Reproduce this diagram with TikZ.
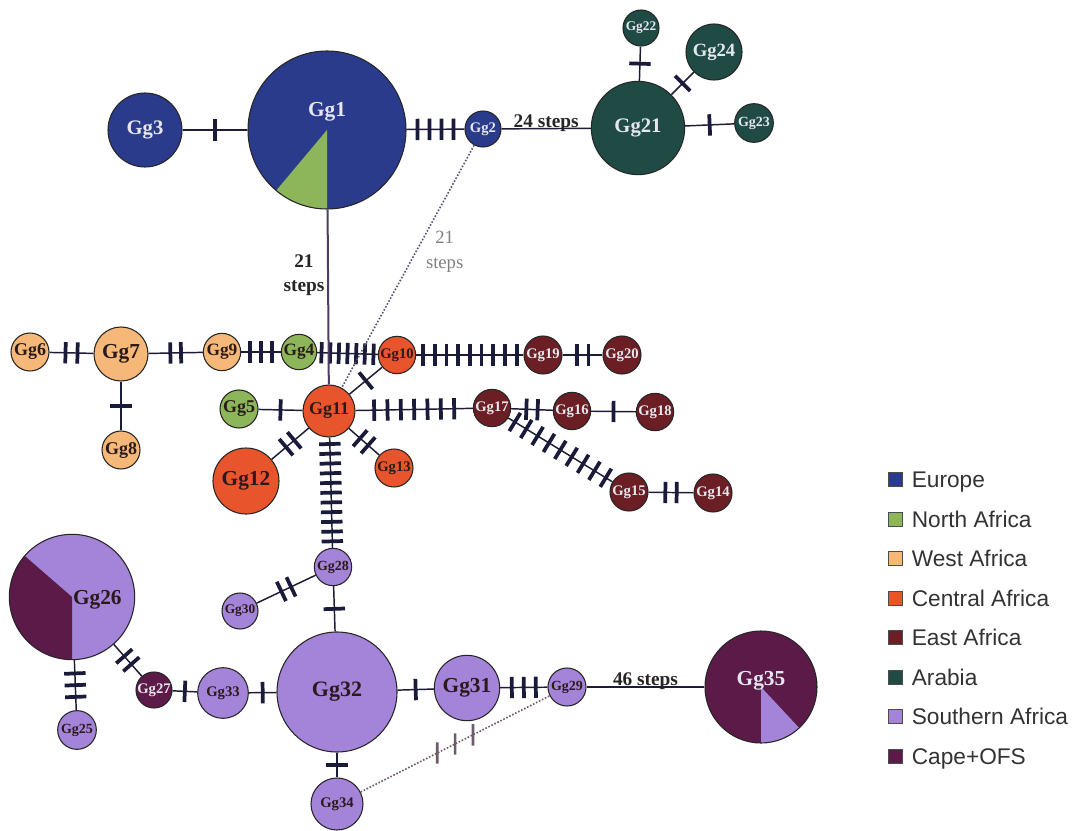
\documentclass[tikz,border=0pt]{standalone}
\usepackage{fontspec}
\setmainfont{Liberation Serif}
\newfontfamily\legfont{Liberation Sans}
\usetikzlibrary{positioning,decorations.markings}
\definecolor{euroc}{HTML}{2B3B8C}
\definecolor{nafrc}{HTML}{8DB65B}
\definecolor{wafrc}{HTML}{F5B878}
\definecolor{cafrc}{HTML}{E8542B}
\definecolor{eafrc}{HTML}{6B1F24}
\definecolor{arabc}{HTML}{1F4B44}
\definecolor{safrc}{HTML}{A484D8}
\definecolor{capec}{HTML}{5B1A48}
\definecolor{labw}{HTML}{E6E6EE}
\definecolor{labd}{HTML}{2A1A1A}
\definecolor{linec}{HTML}{1C1C36}
\definecolor{tickc}{HTML}{1A1A3A}
\definecolor{mainc}{HTML}{4E3E60}
\definecolor{dotc}{HTML}{55557A}
\definecolor{dottickc}{HTML}{6D5A6A}
\tikzset{hap/.style={circle,draw=black!85,line width=0.8pt,inner sep=0pt}}
\tikzset{sz/.style 2 args={minimum size=#1,font=\fontsize{#2}{#2}\selectfont\bfseries}}
\tikzset{euro/.style={hap,fill=euroc,text=labw}}
\tikzset{nafr/.style={hap,fill=nafrc,text=labd}}
\tikzset{wafr/.style={hap,fill=wafrc,text=labd}}
\tikzset{cafr/.style={hap,fill=cafrc,text=labd}}
\tikzset{eafr/.style={hap,fill=eafrc,text=labw}}
\tikzset{arab/.style={hap,fill=arabc,text=labw}}
\tikzset{safr/.style={hap,fill=safrc,text=labd}}
\tikzset{cape/.style={hap,fill=capec,text=labw}}
\tikzset{wedge/.style n args={3}{path picture={\fill[#1] (path picture bounding box.center) -- +(#2:300pt) -- +({(#2+#3)/2}:300pt) -- +(#3:300pt) -- cycle;}}}
\tikzset{biglab/.style={font=\fontsize{16}{16}\selectfont\bfseries}}
\tikzset{link/.style={draw=linec,line width=1.1pt}}
\tikzset{mainlink/.style={draw=mainc,line width=1.5pt}}
\tikzset{dotlink/.style={draw=dotc,line width=1.2pt,dash pattern=on 1.2pt off 1.3pt}}
\tikzset{tickbar/.style={draw=tickc,line width=2.8pt,solid}}
\tikzset{dottick/.style={draw=dottickc,line width=2pt,solid}}
\tikzset{muts/.style 2 args={postaction={decorate,decoration={markings,mark=at position 0.5 with {\foreach \k in {1,...,#1} {\draw[tickbar] ({(\k-(#1+1)/2)*#2},-8pt) -- ++(0pt,16pt);}}}}}}
\tikzset{dotmuts/.style={postaction={decorate,decoration={markings,mark=at position 0.5 with {\foreach \k in {-1,0,1} {\draw[dottick] ({\k*15pt},0pt) ++(243:8pt) -- ++(63:16pt);}}}}}}
\tikzset{steplab/.style={font=\fontsize{14.5}{18.5}\selectfont\bfseries,text=black!85,inner sep=1pt}}
\tikzset{graylab/.style={font=\fontsize{14}{19}\selectfont,text=black!50,inner sep=1pt}}
\tikzset{legsq/.style={rectangle,draw=black!70,line width=0.6pt,minimum size=10.5pt,inner sep=0pt}}
\tikzset{legtxt/.style={font=\legfont\fontsize{17}{17}\selectfont,text=black!80,inner sep=0pt,text height=12pt,text depth=0pt}}

\begin{document}
\begin{tikzpicture}[x=0.75pt,y=-0.75pt]
\useasboundingbox[fill=white] (0,0) rectangle (1081,831);
% Europe and Arabia
\node (gg1) [euro, sz={118.5pt}{15.5}, wedge={nafrc}{230}{270}, label={[biglab,text=labw,yshift=13.5pt]center:Gg1}] at (327,130) {};
\node (gg3) [euro, sz={55.5pt}{15.5}] at (145,130) {Gg3};
\node (gg2) [euro, sz={27pt}{11}] at (483,129) {Gg2};
\node (gg21) [arab, sz={70pt}{15.5}] at (638,128) {Gg21};
\node (gg22) [arab, sz={27pt}{10}] at (641,28) {Gg22};
\node (gg24) [arab, sz={42pt}{14}] at (714,52) {Gg24};
\node (gg23) [arab, sz={29pt}{10.5}] at (754,123) {Gg23};
% West and North Africa
\node (gg6) [wafr, sz={28.5pt}{13.5}] at (30,352) {Gg6};
\node (gg7) [wafr, sz={40.5pt}{16}] at (121,354) {Gg7};
\node (gg8) [wafr, sz={28.5pt}{13.5}] at (121,450) {Gg8};
\node (gg9) [wafr, sz={28pt}{13}] at (222,352) {Gg9};
\node (gg4) [nafr, sz={26.5pt}{13}] at (299,352) {Gg4};
\node (gg5) [nafr, sz={28.5pt}{13.5}] at (239,409) {Gg5};
% Central Africa
\node (gg10) [cafr, sz={28pt}{11}] at (397,355) {Gg10};
\node (gg11) [cafr, sz={39pt}{13.5}] at (329,411) {Gg11};
\node (gg12) [cafr, sz={49.5pt}{16}] at (246,481) {Gg12};
\node (gg13) [cafr, sz={28.5pt}{11}] at (394,468) {Gg13};
% East Africa
\node (gg19) [eafr, sz={28.5pt}{11}] at (543,355) {Gg19};
\node (gg20) [eafr, sz={28.5pt}{11}] at (622,355) {Gg20};
\node (gg17) [eafr, sz={28pt}{11}] at (492,408) {Gg17};
\node (gg16) [eafr, sz={28pt}{11}] at (572,411) {Gg16};
\node (gg18) [eafr, sz={28pt}{11}] at (655,412) {Gg18};
\node (gg15) [eafr, sz={28.5pt}{11}] at (629,492) {Gg15};
\node (gg14) [eafr, sz={28.5pt}{11}] at (713,493) {Gg14};
% Southern Africa and Cape
\node (gg28) [safr, sz={28pt}{10.5}] at (333,567) {Gg28};
\node (gg30) [safr, sz={27pt}{10}] at (240,611) {Gg30};
\node (gg26) [safr, sz={94pt}{16}, wedge={capec}{139}{270}, label={[biglab,text=labd,xshift=19pt,yshift=-2pt]center:Gg26}] at (72,597) {};
\node (gg25) [safr, sz={29pt}{10.5}] at (77,730) {Gg25};
\node (gg27) [cape, sz={27pt}{11}] at (154,690) {Gg27};
\node (gg33) [safr, sz={38pt}{11}] at (223,693) {Gg33};
\node (gg32) [safr, sz={90pt}{16.5}] at (337,692) {Gg32};
\node (gg34) [safr, sz={39pt}{11}] at (337,804) {Gg34};
\node (gg31) [safr, sz={49pt}{16}] at (467,688) {Gg31};
\node (gg29) [safr, sz={28.5pt}{10.5}] at (567,687) {Gg29};
\node (gg35) [cape, sz={84pt}{16}, wedge={safrc}{270}{313}, label={[biglab,text=labw,yshift=5pt]center:Gg35}] at (761,687) {};

% mutational steps
\draw[link, muts={1}{9pt}] (gg3) -- (gg1);
\draw[link, muts={4}{9pt}] (gg1) -- (gg2);
\draw[link] (gg2) -- node[steplab, anchor=base, yshift=1pt] (s24) {24 steps} (gg21);
\draw[link, muts={1}{9pt}] (gg21) -- (gg22);
\draw[link, muts={1}{9pt}] (gg21) -- (gg24);
\draw[link, muts={1}{9pt}] (gg21) -- (gg23);
\draw[link, muts={2}{9pt}] (gg6) -- (gg7);
\draw[link, muts={2}{8pt}] (gg7) -- (gg9);
\draw[link, muts={1}{9pt}] (gg7) -- (gg8);
\draw[link, muts={3}{8pt}] (gg9) -- (gg4);
\draw[link, muts={7}{6.5pt}] (gg4) -- (gg10);
\draw[link, muts={9}{8.8pt}] (gg10) -- (gg19);
\draw[link, muts={2}{8.8pt}] (gg19) -- (gg20);
\draw[link, muts={1}{9pt}] (gg11) -- (gg10);
\draw[link, muts={1}{9pt}] (gg5) -- (gg11);
\draw[link, muts={2}{8pt}] (gg11) -- (gg12);
\draw[link, muts={2}{8pt}] (gg11) -- (gg13);
\draw[link, muts={7}{10pt}] (gg11) -- (gg17);
\draw[link, muts={2}{8.5pt}] (gg17) -- (gg16);
\draw[link, muts={1}{9pt}] (gg16) -- (gg18);
\draw[link, muts={9}{10pt}] (gg17) -- (gg15);
\draw[link, muts={2}{8.5pt}] (gg15) -- (gg14);
\draw[link, muts={11}{7.3pt}] (gg11) -- (gg28);
\draw[link, muts={2}{8pt}] (gg28) -- (gg30);
\draw[link, muts={1}{9pt}] (gg28) -- (gg32);
\draw[link, muts={3}{8.8pt}] (gg26) -- (gg25);
\draw[link, muts={2}{8pt}] (gg26) -- (gg27);
\draw[link, muts={1}{9pt}] (gg27) -- (gg33);
\draw[link, muts={1}{9pt}] (gg33) -- (gg32);
\draw[link, muts={1}{9pt}] (gg32) -- (gg34);
\draw[link, muts={1}{9pt}] (gg32) -- (gg31);
\draw[link, muts={3}{9pt}] (gg31) -- (gg29);
\draw[link] (gg29) -- node[steplab, anchor=base, yshift=1pt] (s46) {46 steps} (gg35);
\draw[mainlink] (gg1) -- node[pos=0.375, left=1pt, steplab, align=center] (s21a) {21\\steps} (gg11);
\draw[dotlink] (gg2) -- node[pos=0.44, right=6pt, graylab, align=center] (s21b) {21\\steps} (gg11);
\draw[dotlink, draw=dottickc, dotmuts] (gg34) -- (gg29);

% legend
\foreach \c/\t [count=\i] in {euroc/Europe, nafrc/North Africa, wafrc/West Africa, cafrc/Central Africa, eafrc/East Africa, arabc/Arabia, safrc/Southern Africa, capec/Cape+OFS} {
  \node (leg\i) [legsq, fill=\c] at (895.5, {479.5+39.5*(\i-1)}) {};
  \node (legt\i) [legtxt, right=6.5pt of leg\i] {\t};
}
\end{tikzpicture}
\end{document}
